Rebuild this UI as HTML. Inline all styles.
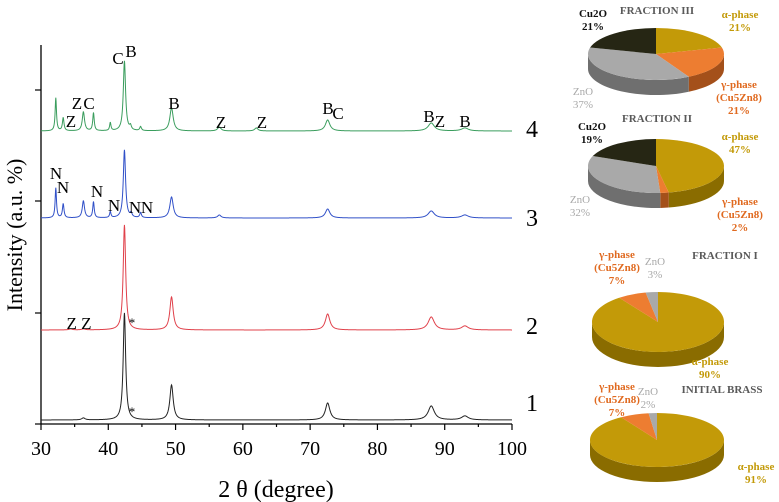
<!DOCTYPE html>
<html><head><meta charset="utf-8"><style>
html,body{margin:0;padding:0;background:#fff;}
svg{display:block;font-family:"Liberation Serif",serif;}
</style></head><body>
<svg id="chart" width="779" height="502" viewBox="0 0 779 502">
<g id="axes"></g>
<g id="traces"></g>
<g id="annots"></g>
<g id="pies"></g>
<text x="276" y="497" font-size="24" text-anchor="middle">2 θ (degree)</text>
<text transform="translate(22,235) rotate(-90)" font-size="22" text-anchor="middle">Intensity (a.u. %)</text>
</svg>
<script>
const NS="http://www.w3.org/2000/svg";
// ---- XRD data ----
const xTicks=[30,40,50,60,70,80,90,100];
const traceNames=["1","2","3","4"];
const traceColors=["#222222","#e0404a","#3050c8","#3a9d5d"];
const traceOffsets=[4,94,206,293];
const peaks1=[[36.3,2,0.3],[42.4,107,0.22],[49.4,35,0.3],[72.6,17,0.4],[88,14,0.55],[93,4,0.6]];
const peaks2=[[34.4,1,0.3],[36.3,1,0.3],[42.4,105,0.22],[49.4,33,0.3],[72.6,16,0.4],[88,13,0.55],[93,4,0.6]];
const peaks3=[[32.2,30,0.12],[33.3,14,0.14],[36.3,17,0.2],[37.8,16,0.13],[40.3,6,0.12],[42.4,68,0.2],[43.4,4,0.15],[44.8,5,0.15],[49.4,21,0.3],[56.5,3,0.3],[72.6,9,0.4],[88,7,0.55],[93,3,0.6]];
const peaks4=[[32.2,33,0.12],[33.3,13,0.14],[36.3,19,0.2],[37.8,18,0.13],[40.3,8,0.12],[42.4,70,0.2],[43.3,4,0.15],[44.8,4,0.15],[49.4,23,0.3],[56.5,4,0.3],[62,3,0.3],[72.6,11,0.4],[88,8,0.55],[93,3,0.6]];
const tracePeaks=[peaks1,peaks2,peaks3,peaks4];
const labelYs=[403,326,218,129];

const X0=41,X1=512,Y0=424,YTOP=45;
const xs=v=>X0+(v-30)/(70)*(X1-X0);
const ys=v=>Y0-v;
function el(t,a,p){const e=document.createElementNS(NS,t);for(const k in a)e.setAttribute(k,a[k]);p.appendChild(e);return e;}

const axes=document.getElementById('axes');
let yax=el('line',{x1:X0,y1:YTOP,x2:X0,y2:Y0,stroke:'#000','stroke-width':1.3},axes);


let xax=el('line',{x1:X0,y1:Y0,x2:X1,y2:Y0,stroke:'#000','stroke-width':1.3},axes);


[90,201,313,424].forEach(y=>{const t=el('line',{x1:X0-6,y1:y,x2:X0,y2:y,stroke:'#000','stroke-width':1.2},axes);

});
for(let v=30;v<=100;v+=5){const major=v%10===0;const t=el('line',{x1:xs(v),y1:Y0,x2:xs(v),y2:Y0+(major?6:3),stroke:'#000','stroke-width':1.2},axes);

}
xTicks.forEach(v=>{const t=el('text',{x:xs(v),y:455,'font-size':20,'text-anchor':'middle'},axes);t.textContent=v;

});

const tr=document.getElementById('traces');
tracePeaks.forEach((pk,i)=>{
  let d='';
  for(let x=30;x<=100.001;x+=0.04){
    let v=traceOffsets[i];
    pk.forEach(p=>{const u=(x-p[0])/p[2];v+=p[1]/(1+u*u);});
    d+=(d?'L':'M')+xs(x).toFixed(2)+','+ys(v).toFixed(2);
  }
  const p=el('path',{d:d,fill:'none',stroke:traceColors[i],'stroke-width':1},tr);
  
  
  const t=el('text',{x:532,y:labelYs[i]+8,'font-size':24,'text-anchor':'middle'},tr);t.textContent=traceNames[i];
  
  
});

// annotations
const ann=[["C",118,58],["B",131,51],["Z",77,103],["C",89,103],["Z",71,121],["B",174,103],["Z",221,122],["Z",262,122],["B",328,108],["C",338,113],["B",429,116],["Z",440,121],["B",465,121],
["N",56,173],["N",63,187],["N",97,191],["N",114,205],["N",135,207],["N",147,207],["Z Z",79,323]];
const ag=document.getElementById('annots');
ann.forEach(a=>{const t=el('text',{x:a[1],y:a[2]+6,'font-size':17,'text-anchor':'middle'},ag);t.textContent=a[0];

});
[[132,321],[132,410]].forEach(a=>{const t=el('text',{x:a[0],y:a[1]+6,'font-size':13,'text-anchor':'middle'},ag);t.textContent='*';

});

// ---- pies ----
const pieNames=["fraction-iii","fraction-ii","fraction-i","initial-brass"];
const pieTitles=["FRACTION III","FRACTION II","FRACTION I","INITIAL BRASS"];
const pieAlpha=[21,47,90,91];
const pieGamma=[21,2,7,7];
const pieZnO=[37,32,3,2];
const pieCu2O=[21,19,0,0];
const sliceColors=["#c39a08","#ed7d31","#a9a9a9","#262614"];
const sideColors=["#8a6c00","#a4501a","#6f6f6f","#151509"];
const pieGeom=[[656,54,68,26],[656,166,68,27],[658,322,66,30],[657,440,67,27]];
const titlePos=[[657,14],[657,122],[725,259],[722,393]];
const pg=document.getElementById('pies');
const DEPTH=15;
function pt(cx,cy,rx,ry,t){return [cx+rx*Math.cos(t),cy+ry*Math.sin(t)];}
pieNames.forEach((nm,i)=>{
  const g=el('g',{},pg);
  
  
  const [cx,cy,rx,ry]=pieGeom[i];
  const vals=[pieAlpha[i],pieGamma[i],pieZnO[i],pieCu2O[i]];
  const tot=vals.reduce((a,b)=>a+b,0);
  let a=-Math.PI/2;const segs=[];
  vals.forEach((v,k)=>{const b=a+v/tot*2*Math.PI;segs.push([a,b,k]);a=b;});
  segs.forEach(([s,e,k])=>{
    [[0,Math.PI],[2*Math.PI,3*Math.PI]].forEach(([lo,hi])=>{
      const s2=Math.max(s,lo),e2=Math.min(e,hi);if(e2<=s2)return;
      const p0=pt(cx,cy,rx,ry,s2),p1=pt(cx,cy,rx,ry,e2);
      const large=(e2-s2)>Math.PI?1:0;
      const d=`M${p0[0]},${p0[1]}A${rx},${ry} 0 ${large} 1 ${p1[0]},${p1[1]}L${p1[0]},${p1[1]+DEPTH}A${rx},${ry} 0 ${large} 0 ${p0[0]},${p0[1]+DEPTH}Z`;
      const p=el('path',{d:d,fill:sideColors[k]},g);
      
      
    });
  });
  segs.forEach(([s,e,k])=>{
    if(e-s<=0)return;
    const p0=pt(cx,cy,rx,ry,s),p1=pt(cx,cy,rx,ry,e);
    const large=(e-s)>Math.PI?1:0;
    const d=`M${cx},${cy}L${p0[0]},${p0[1]}A${rx},${ry} 0 ${large} 1 ${p1[0]},${p1[1]}Z`;
    const p=el('path',{d:d,fill:sliceColors[k]},g);
    
    
  });
  const t=el('text',{x:titlePos[i][0],y:titlePos[i][1],'font-size':11,'font-weight':'bold','fill':'#595959','text-anchor':'middle'},g);
  t.textContent=pieTitles[i];
  
  
});
const pieLabels=[
[["Cu2O","21%"],593,17,"#111",1],[["α-phase","21%"],740,18,"#c39a08",1],[["γ-phase","(Cu5Zn8)","21%"],739,88,"#e06a20",1],[["ZnO","37%"],583,95,"#a9a9a9",0],
[["Cu2O","19%"],592,130,"#111",1],[["α-phase","47%"],740,140,"#c39a08",1],[["γ-phase","(Cu5Zn8)","2%"],740,205,"#e06a20",1],[["ZnO","32%"],580,203,"#a9a9a9",0],
[["γ-phase","(Cu5Zn8)","7%"],617,258,"#e06a20",1],[["ZnO","3%"],655,265,"#a9a9a9",0],[["α-phase","90%"],710,365,"#c39a08",1],
[["γ-phase","(Cu5Zn8)","7%"],617,390,"#e06a20",1],[["ZnO","2%"],648,395,"#a9a9a9",0],[["α-phase","91%"],756,470,"#c39a08",1]];
pieLabels.forEach(L=>{
  const t=el('text',{x:L[1],y:L[2],'font-size':11,'font-weight':L[4]?'bold':'normal',fill:L[3],'text-anchor':'middle'},pg);
  L[0].forEach((s,j)=>{const sp=el('tspan',{x:L[1],dy:j?13:0},t);sp.textContent=s;});
  
  
});
</script>
</body></html>
